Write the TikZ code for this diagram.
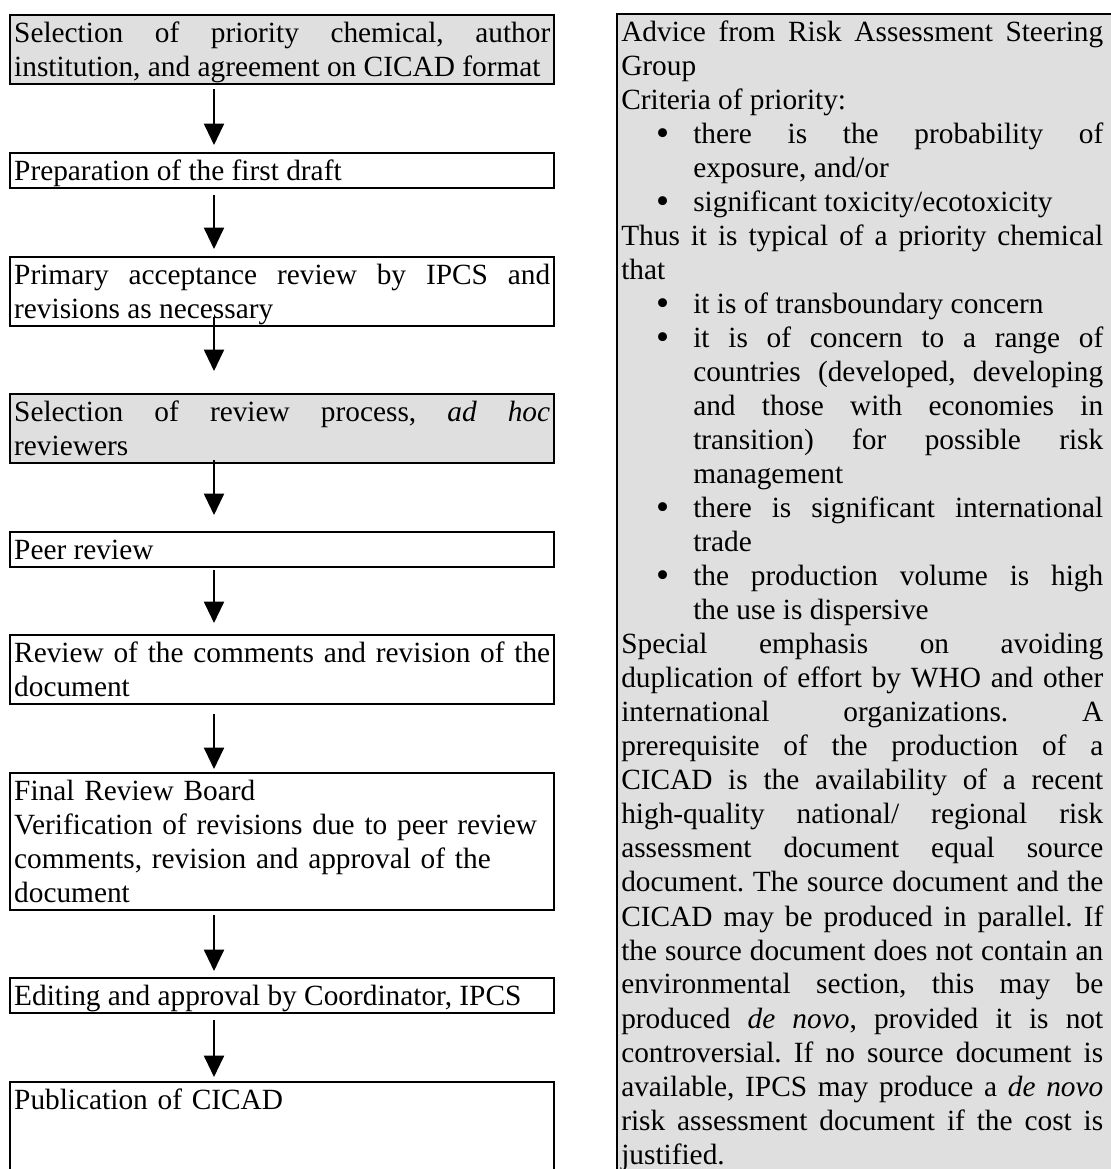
\documentclass[tikz,border=0pt]{standalone}
\usepackage{fontspec}
\setmainfont{Liberation Serif}
\usepackage{xcolor}
\usetikzlibrary{arrows.meta,backgrounds,calc}
\definecolor{boxgrey}{RGB}{223,223,223}
\setlength{\parindent}{0pt}
\frenchspacing
\tolerance=10000
\hbadness=10000
\hyphenpenalty=10000
\exhyphenpenalty=10000
\newcommand{\linestrut}{\rule[-5.1pt]{0pt}{25.5pt}}
\newcommand{\critem}[1]{\par{\leftskip=54pt\noindent\llap{\raisebox{-1.2pt}{\fontsize{28}{0}\selectfont\textbullet}\hskip18pt}#1\par}}

\begin{document}
\begin{tikzpicture}[x=0.75pt,y=0.75pt,yscale=-1,xscale=1,
  stepbox/.style={draw, line width=1.8pt, anchor=north west, inner xsep=3pt, inner ysep=0.4pt, text width=402pt, align=justify, font=\fontsize{22}{25.5}\selectfont, execute at begin node=\linestrut, execute at end node=\linestrut},
  greystep/.style={stepbox, fill=boxgrey},
  flowarrow/.style={line width=1.5pt, -{Triangle[length=16pt,width=15pt]}}]
\useasboundingbox (0,0) rectangle (1110,1169);

% Text Node
\node[greystep] (sel) at (9,14) {Selection of priority chemical, author\linebreak institution, and agreement on CICAD format};
% Text Node
\node[stepbox] (draft) at (9,152) {Preparation of the first draft};
% Text Node
\node[stepbox] (accept) at (9,256) {Primary acceptance review by IPCS and\linebreak revisions as necessary};
% Text Node
\node[greystep] (revsel) at (9,393) {Selection of review process, \emph{ad hoc}\linebreak reviewers};
% Text Node
\node[stepbox] (peer) at (9,531) {Peer review};
% Text Node
\node[stepbox] (comm) at (9,634) {Review of the comments and revision of the\linebreak document};
% Text Node
\node[stepbox, align=left] (board) at (9,772) {Final Review Board\\Verification of revisions due to peer review\\comments, revision and approval of the\\document};
% Text Node
\node[stepbox] (edit) at (9,977) {Editing and approval by Coordinator, IPCS};
% Text Node
\node[stepbox, align=left] (publ) at (9,1081) {Publication of CICAD\\\strut\\\strut};

% Text Node
\node[anchor=north west, inner xsep=3pt, inner ysep=0.4pt, text width=361.5pt, align=justify, font=\fontsize{22}{25.5}\selectfont, execute at begin node=\linestrut] (advice) at (617,14) {Advice from Risk Assessment Steering\linebreak Group\par
Criteria of priority:
\critem{there is the probability of\linebreak exposure, and/or}
\critem{significant toxicity/ecotoxicity}
Thus it is typical of a priority chemical\linebreak that
\critem{it is of transboundary concern}
\critem{it is of concern to a range of\linebreak countries (developed, developing\linebreak and those with economies in\linebreak transition) for possible risk\linebreak management}
\critem{there is significant international\linebreak trade}
\critem{the production volume is high\linebreak the use is dispersive}
Special emphasis on avoiding\linebreak duplication of effort by WHO and other\linebreak international organizations. A\linebreak prerequisite of the production of a\linebreak CICAD is the availability of a recent\linebreak high-quality national/ regional risk\linebreak assessment document equal source\linebreak document. The source document and the\linebreak CICAD may be produced in parallel. If\linebreak the source document does not contain an\linebreak environmental section, this may be\linebreak produced \emph{de novo}, provided it is not\linebreak controversial. If no source document is\linebreak available, IPCS may produce a \emph{de novo}\linebreak risk assessment document if the cost is\linebreak justified.};
%Shape: Rectangle
\begin{scope}[on background layer]
\draw[line width=1.2pt, fill=boxgrey] (advice.north west) rectangle ($(advice.south east)+(16,20)$);
\end{scope}

\coordinate (arrx) at (214,0);
%Straight Lines
\draw[flowarrow, shorten <=3pt, shorten >=5.25pt] (sel.south -| arrx) -- (draft.north -| arrx);
%Straight Lines
\draw[flowarrow, shorten <=4.5pt, shorten >=5.25pt] (draft.south -| arrx) -- (accept.north -| arrx);
%Straight Lines
\draw[flowarrow, shorten <=-7.5pt, shorten >=16.5pt] (accept.south -| arrx) -- (revsel.north -| arrx);
%Straight Lines
\draw[flowarrow, shorten <=-3pt, shorten >=12pt] (revsel.south -| arrx) -- (peer.north -| arrx);
%Straight Lines
\draw[flowarrow, shorten <=1.5pt, shorten >=8.25pt] (peer.south -| arrx) -- (comm.north -| arrx);
%Straight Lines
\draw[flowarrow, shorten <=6.75pt, shorten >=2.25pt] (comm.south -| arrx) -- (board.north -| arrx);
%Straight Lines
\draw[flowarrow, shorten <=3pt, shorten >=4.5pt] (board.south -| arrx) -- (edit.north -| arrx);
%Straight Lines
\draw[flowarrow, shorten <=4.5pt, shorten >=3pt] (edit.south -| arrx) -- (publ.north -| arrx);

\end{tikzpicture}
\end{document}
